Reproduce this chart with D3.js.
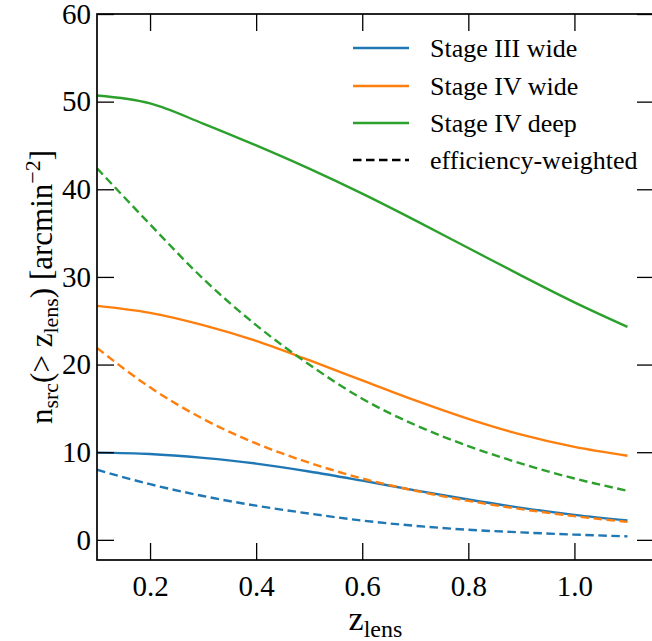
<!DOCTYPE html>
<html>
<head>
<meta charset="utf-8">
<script src="https://cdn.jsdelivr.net/npm/d3@7"></script>
<style>
  html, body { margin: 0; padding: 0; background: #fff; }
  svg { display: block; }
  text { font-family: "Liberation Serif", "DejaVu Serif", serif; fill: #000; }
</style>
</head>
<body>
<svg id="chart" width="652" height="641"></svg>
<script>
// ---- data ----
const zLens = [0.1, 0.2, 0.3, 0.4, 0.5, 0.6, 0.7, 0.8, 0.9, 1.0, 1.1];
const stage3Wide     = [9.95, 9.8, 9.35, 8.7, 7.8, 6.75, 5.65, 4.6, 3.65, 2.85, 2.2];
const stage4Wide     = [26.7, 25.9, 24.5, 22.7, 20.5, 18.2, 15.9, 13.8, 12.0, 10.6, 9.6];
const stage4Deep     = [50.7, 49.8, 47.5, 45.0, 42.35, 39.5, 36.45, 33.3, 30.15, 27.1, 24.3];
const stage3WideEff  = [8.0, 6.35, 5.0, 3.9, 3.0, 2.2, 1.6, 1.15, 0.85, 0.6, 0.4];
const stage4WideEff  = [21.9, 17.4, 13.8, 11.0, 8.8, 7.0, 5.6, 4.45, 3.5, 2.7, 2.05];
const stage4DeepEff  = [42.4, 36.0, 29.8, 24.5, 20.0, 16.1, 13.1, 10.7, 8.7, 7.0, 5.6];
const seriesNames = ["Stage III wide", "Stage IV wide", "Stage IV deep"];
const legendDashedLabel = "efficiency-weighted";
const xTicks = [0.2, 0.4, 0.6, 0.8, 1.0];
const yTicks = [0, 10, 20, 30, 40, 50, 60];
const colors = ["#1f77b4", "#ff7f0e", "#2ca02c"];

const solidSeries = [stage3Wide, stage4Wide, stage4Deep];
const dashedSeries = [stage3WideEff, stage4WideEff, stage4DeepEff];

// ---- layout ----
const W = 652, H = 641;
const L = 97, T = 14, R = 654, B = 560;

const svg = d3.select("#chart");
const x = d3.scaleLinear().domain([0.1, 1.15]).range([L, R]);
const y = d3.scaleLinear().domain([-2.3, 60]).range([B, T]);

svg.append("defs").append("clipPath").attr("id", "clip")
  .append("rect").attr("x", L).attr("y", T).attr("width", R - L).attr("height", B - T);

const line = d3.line()
  .x((d, i) => x(zLens[i]))
  .y(d => y(d))
  .curve(d3.curveMonotoneX);

const plot = svg.append("g").attr("clip-path", "url(#clip)");

solidSeries.forEach((s, k) => {
  plot.append("path").datum(s)
    .attr("d", line)
    .attr("fill", "none")
    .attr("stroke", colors[k])
    .attr("stroke-width", 2.4);
});
dashedSeries.forEach((s, k) => {
  plot.append("path").datum(s)
    .attr("d", line)
    .attr("fill", "none")
    .attr("stroke", colors[k])
    .attr("stroke-width", 2.4)
    .attr("stroke-dasharray", "8.5,4.5");
});

// axes
const tickLen = 17;
const fs = 29;
const styleAxis = g => {
  g.select(".domain").remove();
  g.selectAll(".tick line").attr("stroke", "#000").attr("stroke-width", 1.3);
  g.selectAll(".tick text").style("font-size", fs + "px").attr("fill", "#000");
};
const fmtX = d => d3.format(".1f")(d);

svg.append("g").attr("transform", `translate(0,${B})`)
  .call(d3.axisBottom(x).tickValues(xTicks).tickFormat(fmtX).tickSize(-tickLen).tickPadding(15))
  .call(styleAxis);
svg.append("g").attr("transform", `translate(0,${T})`)
  .call(d3.axisTop(x).tickValues(xTicks).tickFormat("").tickSize(-tickLen))
  .call(styleAxis);
svg.append("g").attr("transform", `translate(${L},0)`)
  .call(d3.axisLeft(y).tickValues(yTicks).tickFormat(d3.format("d")).tickSize(-tickLen).tickPadding(6))
  .call(styleAxis);
svg.append("g").attr("transform", `translate(${R},0)`)
  .call(d3.axisRight(y).tickValues(yTicks).tickFormat("").tickSize(-tickLen))
  .call(styleAxis);

// spines
svg.append("rect").attr("x", L).attr("y", T).attr("width", R - L).attr("height", B - T)
  .attr("fill", "none").attr("stroke", "#000").attr("stroke-width", 1.7);

// legend
const legX1 = 353, legX2 = 409, legTx = 430;
const legRows = [48, 86, 123, 160];
const legFs = "26px";
const legG = svg.append("g");
seriesNames.forEach((n, k) => {
  legG.append("line").attr("x1", legX1).attr("x2", legX2)
    .attr("y1", legRows[k]).attr("y2", legRows[k])
    .attr("stroke", colors[k]).attr("stroke-width", 2.4);
  legG.append("text").attr("x", legTx).attr("y", legRows[k] + 9)
    .style("font-size", legFs).text(n);
});
legG.append("line").attr("x1", legX1).attr("x2", legX2)
  .attr("y1", legRows[3]).attr("y2", legRows[3])
  .attr("stroke", "#000").attr("stroke-width", 2.4).attr("stroke-dasharray", "8.5,4.5");
legG.append("text").attr("x", legTx).attr("y", legRows[3] + 9)
  .style("font-size", legFs).text(legendDashedLabel);

// x label
const xl = svg.append("text").attr("x", (L + R) / 2).attr("y", 630)
  .attr("text-anchor", "middle").style("font-size", "34px");
xl.append("tspan").text("z");
xl.append("tspan").attr("dy", 7).style("font-size", "24px").text("lens");

// y label
const yl = svg.append("text")
  .attr("transform", `translate(52,${(T + B) / 2}) rotate(-90)`)
  .attr("text-anchor", "middle").style("font-size", "31px");
yl.append("tspan").text("n");
yl.append("tspan").attr("dy", 6).style("font-size", "22px").text("src");
yl.append("tspan").attr("dy", -6).text("(> z");
yl.append("tspan").attr("dy", 6).style("font-size", "22px").text("lens");
yl.append("tspan").attr("dy", -6).text(") [arcmin");
yl.append("tspan").attr("dy", -12).style("font-size", "22px").text("\u22122");
yl.append("tspan").attr("dy", 12).text("]");
</script>
</body>
</html>
